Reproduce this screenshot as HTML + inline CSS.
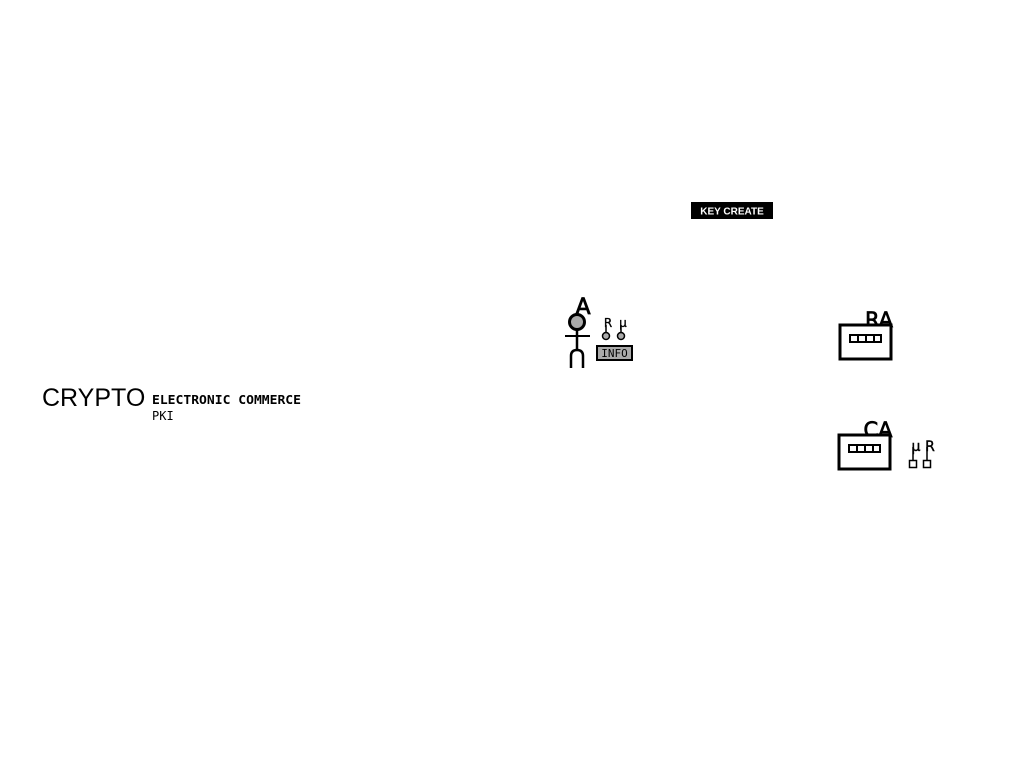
<!DOCTYPE html>
<html><head><meta charset="utf-8"><style>
html,body{margin:0;padding:0;background:#fff;width:1024px;height:768px;overflow:hidden}
</style></head><body>
<svg width="1024" height="768" xmlns="http://www.w3.org/2000/svg">
<rect x="691" y="202" width="82" height="17" fill="#000"/>
<text x="732" y="214.5" font-family="Liberation Sans, sans-serif" font-size="10" font-weight="bold" fill="#fff" text-anchor="middle">KEY CREATE</text>

<text x="42" y="406" font-family="Liberation Sans, sans-serif" font-size="25" fill="#000">CRYPTO</text>
<text x="152" y="404" font-family="DejaVu Sans Mono, monospace" font-size="12.5" font-weight="bold" fill="#000" textLength="149" lengthAdjust="spacingAndGlyphs">ELECTRONIC COMMERCE</text>
<text x="152" y="420" font-family="DejaVu Sans Mono, monospace" font-size="12" fill="#000">PKI</text>

<!-- person -->
<text x="583" y="314" font-family="DejaVu Sans, sans-serif" font-size="22" text-anchor="middle" fill="#000" stroke="#000" stroke-width="0.8">A</text>
<circle cx="577" cy="322" r="7.5" fill="#aaa" stroke="#000" stroke-width="3"/>
<line x1="577" y1="330" x2="577" y2="350" stroke="#000" stroke-width="2.5"/>
<line x1="565" y1="336" x2="590" y2="336" stroke="#000" stroke-width="2"/>
<path d="M571 368 V356 Q571 350 577 350 Q583 350 583 356 V368" fill="none" stroke="#000" stroke-width="2.5"/>
<text x="608" y="327" font-family="DejaVu Sans, sans-serif" font-size="12" text-anchor="middle" stroke="#000" stroke-width="0.3">R</text>
<text x="623" y="327" font-family="DejaVu Sans, sans-serif" font-size="12" text-anchor="middle" stroke="#000" stroke-width="0.3">μ</text>
<line x1="606" y1="325" x2="606" y2="333" stroke="#000" stroke-width="1.5"/>
<line x1="621" y1="325" x2="621" y2="333" stroke="#000" stroke-width="1.5"/>
<circle cx="606" cy="336" r="3.5" fill="#aaa" stroke="#000" stroke-width="1.5"/>
<circle cx="621" cy="336" r="3.5" fill="#aaa" stroke="#000" stroke-width="1.5"/>
<rect x="597" y="346" width="35" height="14" fill="#aaa" stroke="#000" stroke-width="2"/>
<text x="614.5" y="357" font-family="DejaVu Sans Mono, monospace" font-size="11" text-anchor="middle">INFO</text>

<!-- RA -->
<text x="879" y="327" font-family="DejaVu Sans, sans-serif" font-size="21" text-anchor="middle" stroke="#000" stroke-width="0.7">RA</text>
<rect x="840" y="325" width="51" height="34" fill="#fff" stroke="#000" stroke-width="3"/>
<rect x="850" y="335" width="31" height="7" fill="#fff" stroke="#000" stroke-width="2"/>
<line x1="858" y1="335" x2="858" y2="342" stroke="#000" stroke-width="2"/>
<line x1="866" y1="335" x2="866" y2="342" stroke="#000" stroke-width="2"/>
<line x1="874" y1="335" x2="874" y2="342" stroke="#000" stroke-width="2"/>

<!-- CA -->
<text x="878" y="437" font-family="DejaVu Sans, sans-serif" font-size="21" text-anchor="middle" stroke="#000" stroke-width="0.7">CA</text>
<rect x="839" y="435" width="51" height="34" fill="#fff" stroke="#000" stroke-width="3"/>
<rect x="849" y="445" width="31" height="7" fill="#fff" stroke="#000" stroke-width="2"/>
<line x1="857" y1="445" x2="857" y2="452" stroke="#000" stroke-width="2"/>
<line x1="865" y1="445" x2="865" y2="452" stroke="#000" stroke-width="2"/>
<line x1="873" y1="445" x2="873" y2="452" stroke="#000" stroke-width="2"/>
<text x="916" y="451" font-family="DejaVu Sans, sans-serif" font-size="14" text-anchor="middle" stroke="#000" stroke-width="0.4">μ</text>
<text x="930" y="451" font-family="DejaVu Sans, sans-serif" font-size="14" text-anchor="middle" stroke="#000" stroke-width="0.4">R</text>
<line x1="913" y1="447" x2="913" y2="460" stroke="#000" stroke-width="1.5"/>
<line x1="927" y1="447" x2="927" y2="460" stroke="#000" stroke-width="1.5"/>
<rect x="909.5" y="460.5" width="7" height="7" fill="#fff" stroke="#000" stroke-width="1.5"/>
<rect x="923.5" y="460.5" width="7" height="7" fill="#fff" stroke="#000" stroke-width="1.5"/>
</svg>
</body></html>
